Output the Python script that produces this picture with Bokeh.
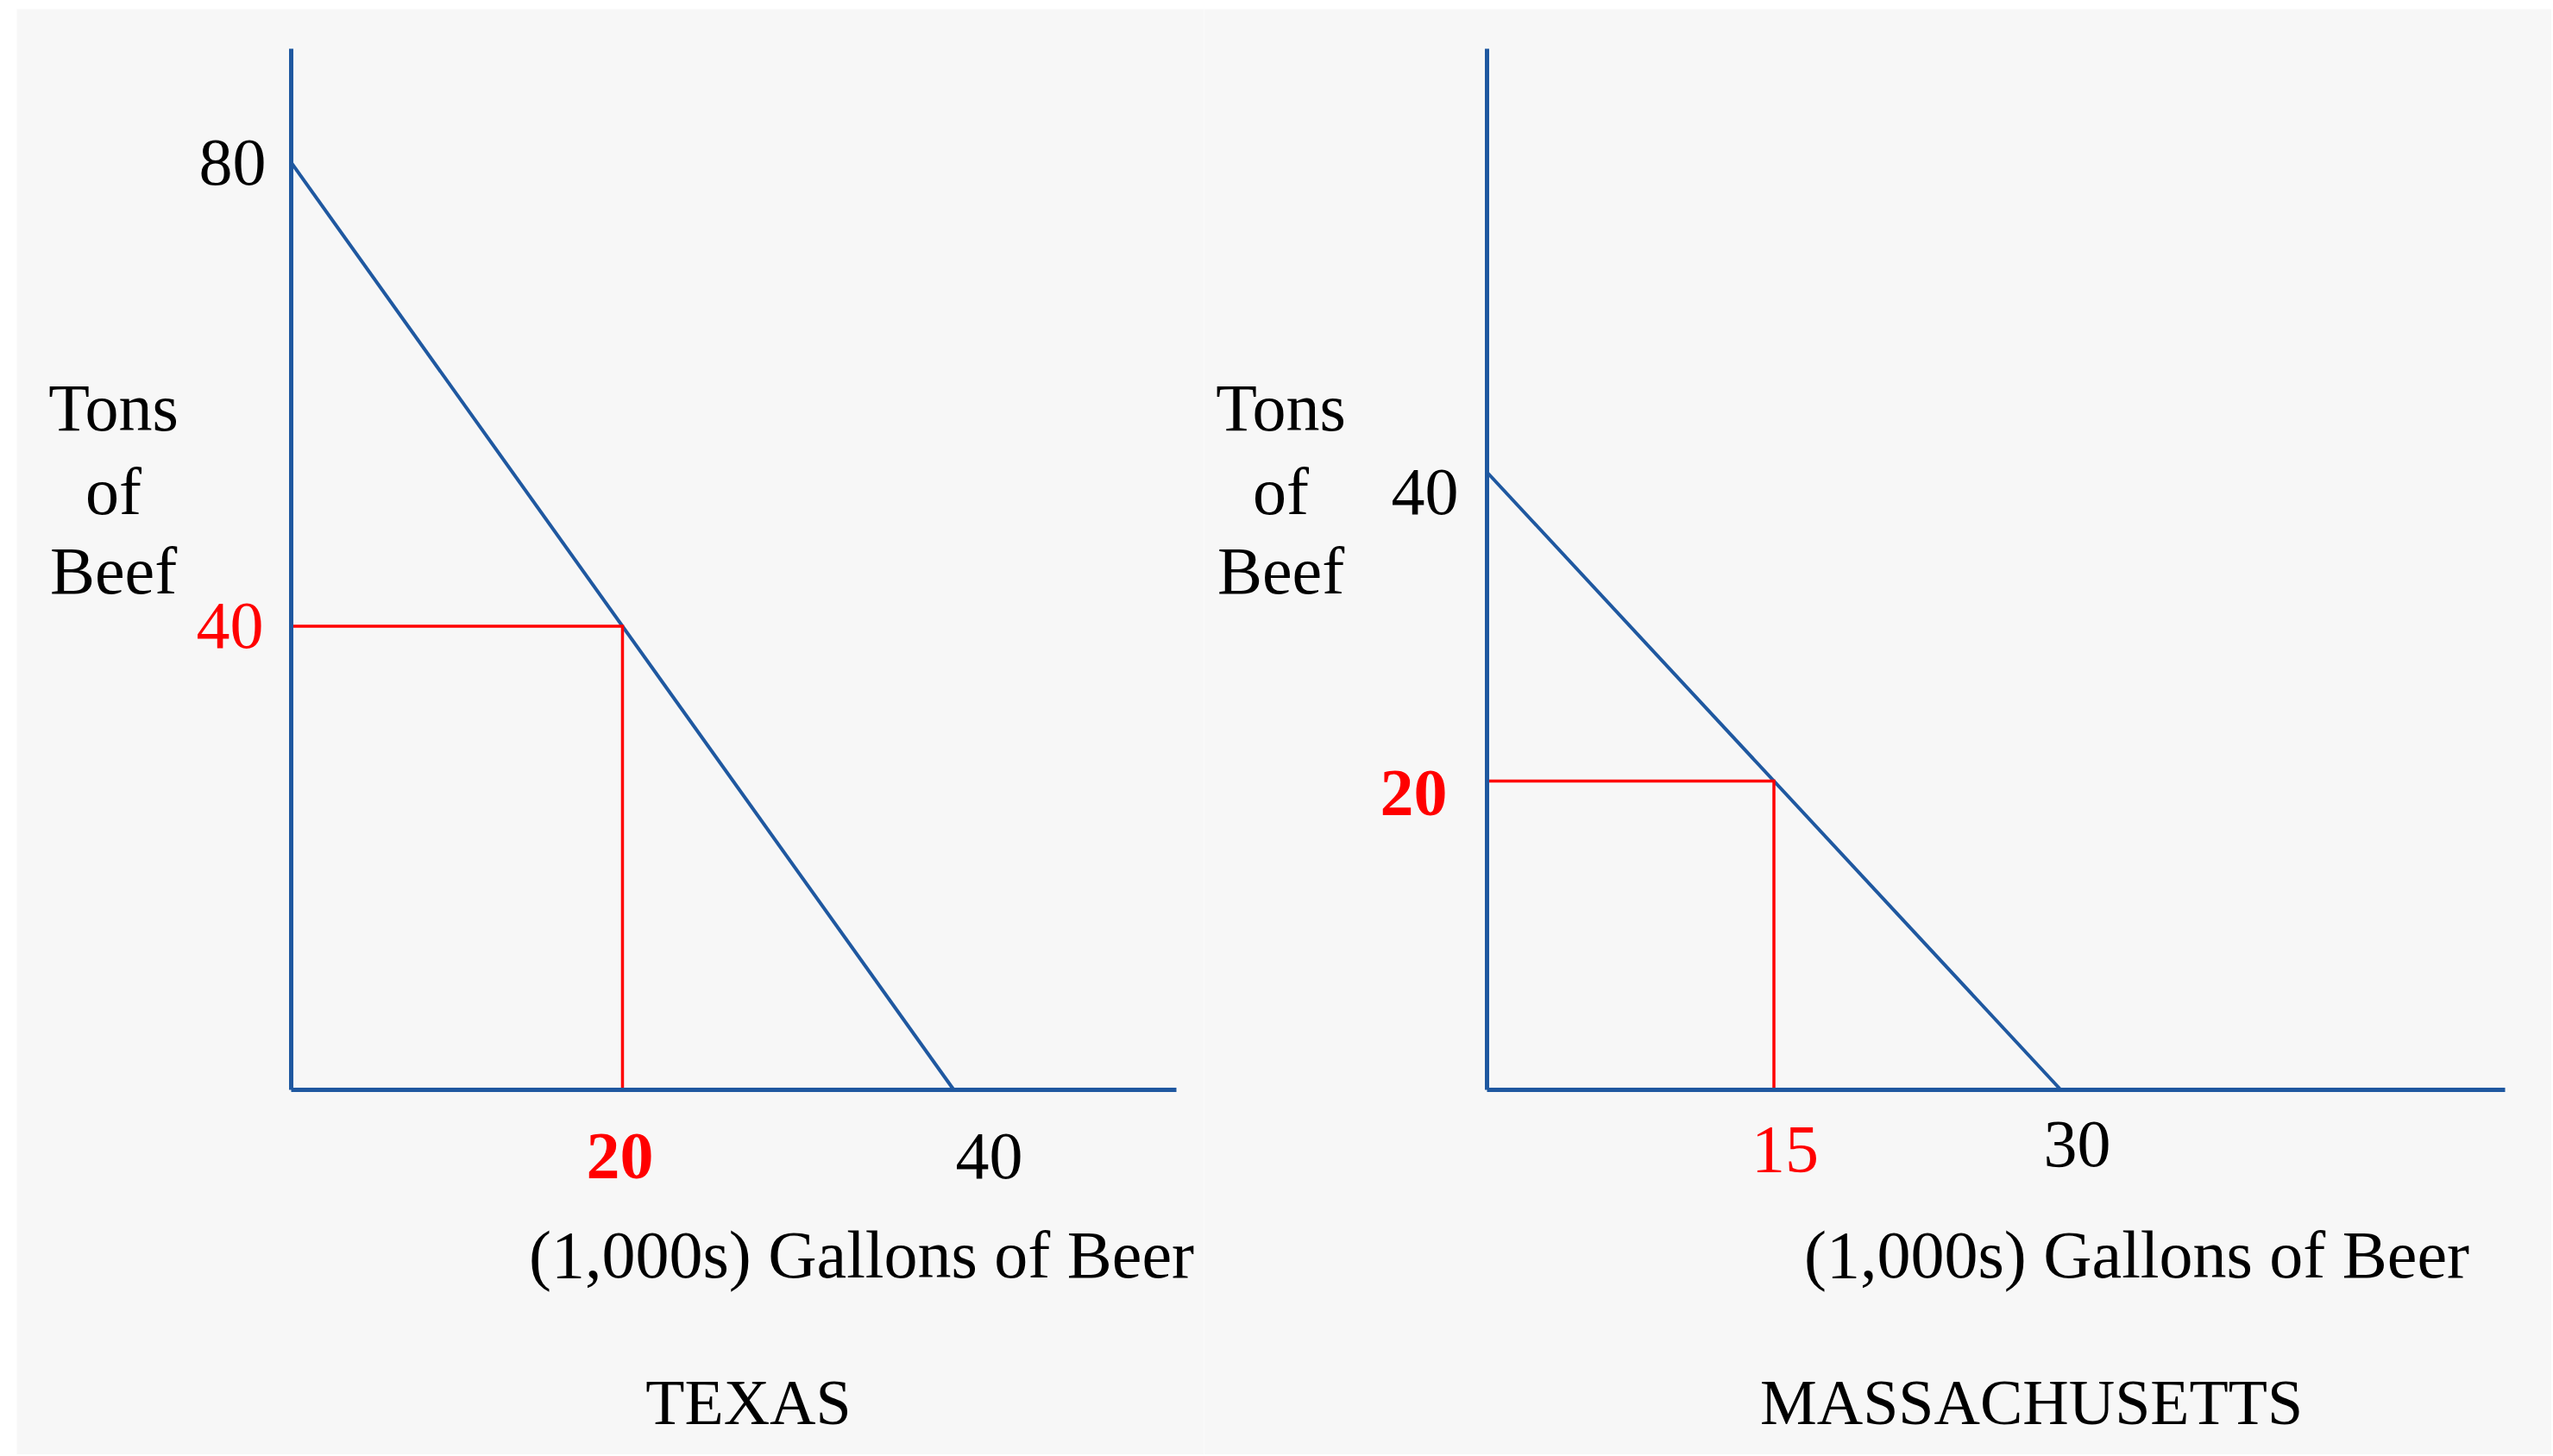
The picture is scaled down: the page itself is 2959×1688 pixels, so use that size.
from bokeh.plotting import figure
from bokeh.layouts import row, column
from bokeh.models import Range1d, FixedTicker, Label, Spacer
from bokeh.embed import file_html
from bokeh.resources import INLINE

# ---------------- data ----------------
# Texas production possibilities frontier (gallons of beer in 1,000s, tons of beef)
TX_PPF_BEER = [0, 40]
TX_PPF_BEEF = [80, 0]
TX_POINT_BEER = 20
TX_POINT_BEEF = 40
TX_Y_TICKS = [80, 40]
TX_Y_LABELS = ["80", "40"]
TX_X_TICKS = [20, 40]
TX_X_LABELS = ["20", "40"]
TX_X_END = 53.44   # length of the drawn beer axis
TX_Y_END = 89.82   # length of the drawn beef axis

# Massachusetts production possibilities frontier
MA_PPF_BEER = [0, 30]
MA_PPF_BEEF = [40, 0]
MA_POINT_BEER = 15
MA_POINT_BEEF = 20
MA_Y_TICKS = [40, 20]
MA_Y_LABELS = ["40", "20"]
MA_X_TICKS = [15, 30]
MA_X_LABELS = ["15", "30"]
MA_X_END = 53.23
MA_Y_END = 67.43

Y_TITLE_LINES = ["Tons", "of", "Beef"]
X_TITLE = "(1,000s) Gallons of Beer"
STATE_NAMES = ["TEXAS", "MASSACHUSETTS"]

# ---------------- style ----------------
BG = "#f7f7f7"
BLUE = "#1f58a0"
RED = "#ff0000"
BLACK = "#000000"
FONT = "Liberation Serif"
SIZE = "78px"
TITLE_SIZE = "74px"
FIG_H = 1676
YTITLE_DY = [791, 694, 602]
XTITLE_DY = -191
NAME_DY = -362


def make_panel(width, borders, x_end, y_end, ppf_x, ppf_y, pt_x, pt_y,
               y_ticks, y_labels, y_styles, x_ticks, x_labels, x_styles,
               ytitle_dx, xtitle_dx, name, name_dx):
    left, right, top, bottom = borders
    sx = (width - left - right) / x_end
    sy = (FIG_H - top - bottom) / y_end
    p = figure(width=width, height=FIG_H, output_backend="svg",
               toolbar_location=None,
               x_range=Range1d(-left / sx, (width - left) / sx),
               y_range=Range1d(-bottom / sy, (FIG_H - bottom) / sy),
               min_border=0)
    p.background_fill_color = BG
    p.border_fill_color = BG
    p.outline_line_color = None
    p.grid.visible = False
    for ax, end in ((p.xaxis[0], x_end), (p.yaxis[0], y_end)):
        ax.fixed_location = 0
        ax.bounds = (0, end)
        ax.ticker = FixedTicker(ticks=[])
        ax.major_tick_line_color = None
        ax.minor_tick_line_color = None
        ax.major_label_text_font_size = "0px"
        ax.major_label_standoff = 0
        ax.axis_line_color = BLUE
        ax.axis_line_width = 5

    # frontier
    p.line(ppf_x, ppf_y, line_color=BLUE, line_width=4)
    # chosen production point
    p.line([0, pt_x, pt_x], [pt_y, pt_y, 0], line_color=RED, line_width=3.5,
           line_join="miter")

    # y tick labels
    for val, txt, (color, bold, dx, dy) in zip(y_ticks, y_labels, y_styles):
        p.add_layout(Label(x=0, y=val, x_offset=dx, y_offset=dy, text=txt,
                           text_align="right", text_baseline="middle",
                           text_font=FONT, text_font_size=SIZE,
                           text_font_style="bold" if bold else "normal",
                           text_color=color))
    # x tick labels
    for val, txt, (color, bold, dx, dy) in zip(x_ticks, x_labels, x_styles):
        p.add_layout(Label(x=val, y=0, x_offset=dx, y_offset=dy, text=txt,
                           text_align="center", text_baseline="middle",
                           text_font=FONT, text_font_size=SIZE,
                           text_font_style="bold" if bold else "normal",
                           text_color=color))
    # y title (three lines)
    for line, dy in zip(Y_TITLE_LINES, YTITLE_DY):
        p.add_layout(Label(x=0, y=0, x_offset=ytitle_dx, y_offset=dy, text=line,
                           text_align="center", text_baseline="middle",
                           text_font=FONT, text_font_size=SIZE, text_color=BLACK))
    # x title
    p.add_layout(Label(x=0, y=0, x_offset=xtitle_dx, y_offset=XTITLE_DY, text=X_TITLE,
                       text_align="center", text_baseline="middle",
                       text_font=FONT, text_font_size=SIZE, text_color=BLACK))
    # state name
    p.add_layout(Label(x=0, y=0, x_offset=name_dx, y_offset=NAME_DY, text=name,
                       text_align="center", text_baseline="middle",
                       text_font=FONT, text_font_size=TITLE_SIZE, text_color=BLACK))
    return p


p1 = make_panel(1376, (318, 32, 46, 423), TX_X_END, TX_Y_END,
                TX_PPF_BEER, TX_PPF_BEEF, TX_POINT_BEER, TX_POINT_BEEF,
                TX_Y_TICKS, TX_Y_LABELS, [(BLACK, False, -29, 0), (RED, False, -32, 0)],
                TX_X_TICKS, TX_X_LABELS, [(RED, True, -3, -77), (BLACK, False, 41, -77)],
                -206, 661, STATE_NAMES[0], 530)

p2 = make_panel(1562, (328, 54, 46, 423), MA_X_END, MA_Y_END,
                MA_PPF_BEER, MA_PPF_BEEF, MA_POINT_BEER, MA_POINT_BEEF,
                MA_Y_TICKS, MA_Y_LABELS, [(BLACK, False, -33, -23), (RED, True, -46, -14)],
                MA_X_TICKS, MA_X_LABELS, [(RED, False, 13, -69), (BLACK, False, 19, -63)],
                -239, 753, STATE_NAMES[1], 631)

layout = column(Spacer(height=10, width=10),
                row(Spacer(width=19, height=10), p1, p2, spacing=0),
                spacing=0)

open("out.html", "w").write(file_html(layout, INLINE))
